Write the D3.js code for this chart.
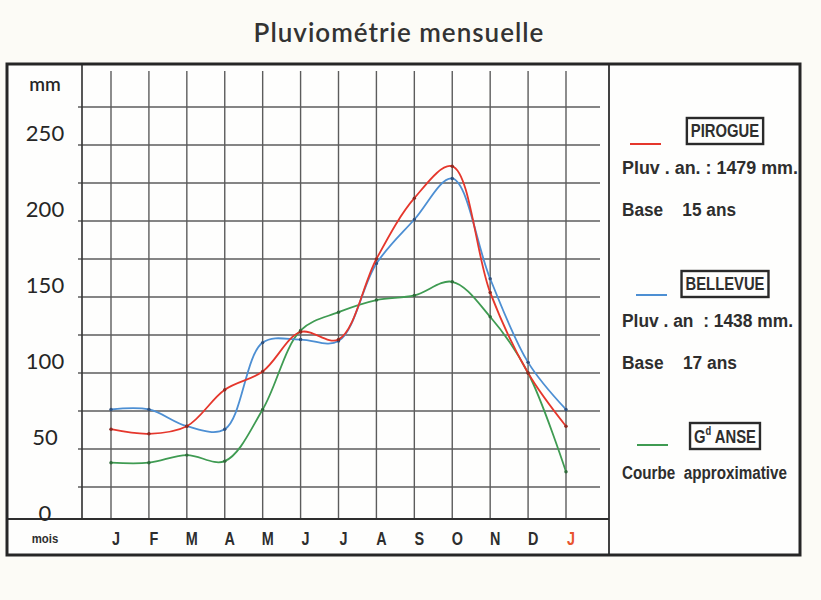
<!DOCTYPE html>
<html>
<head>
<meta charset="utf-8">
<script src="https://cdn.jsdelivr.net/npm/d3@7"></script>
<style>
  body { margin: 0; background: #fcfbf6; }
  svg { display: block; }
  .cond { font-family: "Liberation Sans", Arial, sans-serif; font-weight: bold; fill: #2e2e2e; white-space: pre; }
</style>
</head>
<body>
<div id="chart"></div>
<script>
// Data (mm per month), Jan -> following Jan
const months = ["J", "F", "M", "A", "M", "J", "J", "A", "S", "O", "N", "D", "J"];
const pirogue = [63, 60, 65, 89, 101, 127, 122, 175, 215, 236, 153, 100, 65];
const bellevue = [76, 76, 65, 63, 120, 122, 121, 172, 201, 228, 162, 107, 76];
const grandeAnse = [41, 41, 46, 42, 76, 128, 140, 148, 151, 160, 137, 100, 35];
const yTicks = [0, 50, 100, 150, 200, 250];
const gridValues = [25, 50, 75, 100, 125, 150, 175, 200, 225, 250, 275];

const W = 821, H = 600;
const svg = d3.select("#chart").append("svg")
    .attr("width", W).attr("height", H);

// Scales
const x = d3.scaleLinear().domain([0, 12]).range([111, 566]);
const y = d3.scaleLinear().domain([0, 25]).range([525, 487]);

// condensed bold text, squeezed horizontally
function condText(parent, tx, ty, size, sx, anchor) {
    return parent.append("text")
        .attr("class", "cond")
        .attr("transform", `translate(${tx},${ty}) scale(${sx},1)`)
        .attr("text-anchor", anchor || "start")
        .attr("dominant-baseline", "central")
        .style("font-size", size + "px");
}

// Title
svg.append("text")
    .attr("x", 399).attr("y", 42)
    .attr("text-anchor", "middle")
    .style("font-family", "Lato, 'Open Sans', sans-serif")
    .style("font-size", "26px")
    .style("font-weight", "600")
    .style("letter-spacing", "1px")
    .attr("fill", "#333")
    .text("Pluviométrie mensuelle");

// White sheet
svg.append("rect")
    .attr("x", 7).attr("y", 64).attr("width", 793).attr("height", 491)
    .attr("fill", "#fefefd");

// Grid
const grid = svg.append("g").attr("stroke", "#5c5c5c").attr("stroke-width", 1.4);
grid.selectAll("line.h")
    .data(gridValues)
    .join("line")
    .attr("class", "h")
    .attr("x1", 78).attr("x2", 600)
    .attr("y1", d => y(d)).attr("y2", d => y(d));
grid.selectAll("line.v")
    .data(months)
    .join("line")
    .attr("class", "v")
    .attr("x1", (d, i) => x(i)).attr("x2", (d, i) => x(i))
    .attr("y1", 71).attr("y2", 519);

// Frame lines
svg.append("line").attr("x1", 82).attr("x2", 82).attr("y1", 64).attr("y2", 519)
    .attr("stroke", "#3a3a3a").attr("stroke-width", 1.7);
svg.append("line").attr("x1", 7).attr("x2", 609).attr("y1", 519).attr("y2", 519)
    .attr("stroke", "#2e2e2e").attr("stroke-width", 1.8);
svg.append("line").attr("x1", 609).attr("x2", 609).attr("y1", 64).attr("y2", 555)
    .attr("stroke", "#2e2e2e").attr("stroke-width", 1.8);
svg.append("rect")
    .attr("x", 7).attr("y", 64).attr("width", 793).attr("height", 491)
    .attr("fill", "none").attr("stroke", "#262626").attr("stroke-width", 3);

// Y axis labels
const yl = svg.append("g")
    .style("font-family", "Lato, 'Open Sans', sans-serif")
    .style("font-size", "22px")
    .attr("fill", "#262626");
yl.selectAll("text")
    .data(yTicks)
    .join("text")
    .attr("x", 45).attr("y", d => y(d) - 13)
    .attr("text-anchor", "middle")
    .attr("dominant-baseline", "central")
    .text(d => d);
yl.append("text")
    .attr("x", 45).attr("y", 83)
    .attr("text-anchor", "middle")
    .attr("dominant-baseline", "central")
    .style("font-size", "19px")
    .style("font-weight", "600")
    .text("mm");

// X axis labels
condText(svg, 45, 538, 12, 0.95, "middle").text("mois");
svg.selectAll("text.month")
    .data(months)
    .join("text")
    .attr("class", "month cond")
    .attr("transform", (d, i) => `translate(${x(i) + 5},538) scale(0.8,1)`)
    .attr("text-anchor", "middle")
    .attr("dominant-baseline", "central")
    .style("font-size", "18px")
    .style("fill", (d, i) => i === 12 ? "#e8552e" : "#2e2e2e")
    .text(d => d);

// Curves
const series = [
    { name: "pirogue", values: pirogue, color: "#e5372c", dot: "#8a2a22" },
    { name: "bellevue", values: bellevue, color: "#4d8fd3", dot: "#2f4f7a" },
    { name: "grandeAnse", values: grandeAnse, color: "#3f9b52", dot: "#2f6a3a" }
];
const line = d3.line()
    .x((d, i) => x(i))
    .y(d => y(d))
    .curve(d3.curveCatmullRom.alpha(0.5));

series.slice().reverse().forEach(s => {
    svg.append("path")
        .datum(s.values)
        .attr("d", line)
        .attr("fill", "none")
        .attr("stroke", s.color)
        .attr("stroke-width", 1.8)
        .attr("stroke-linejoin", "round");
    svg.append("g").selectAll("circle")
        .data(s.values)
        .join("circle")
        .attr("cx", (d, i) => x(i))
        .attr("cy", d => y(d))
        .attr("r", 1.7)
        .attr("fill", s.dot);
});

// Legend
const legendLabels = ["PIROGUE", "BELLEVUE", "ANSE"];
const legendNotes = [
    ["Pluv . an. : 1479 mm.", "Base    15 ans"],
    ["Pluv . an  : 1438 mm.", "Base    17 ans"],
    ["Courbe  approximative"]
];
const legendColors = ["#e5372c", "#4d8fd3", "#3f9b52"];
// layout of the legend panel
const boxYs = [131, 284, 436];
const dashXs = [630, 636, 637];
const dashYs = [144, 295, 445];
const noteWidths = [[176, 114], [171, 115], [165]];

const lg = svg.append("g");
legendLabels.forEach((label, k) => {
    lg.append("line")
        .attr("x1", dashXs[k]).attr("x2", dashXs[k] + 31)
        .attr("y1", dashYs[k]).attr("y2", dashYs[k])
        .attr("stroke", legendColors[k]).attr("stroke-width", 2);
    const t = condText(lg, 725, boxYs[k], 19, 0.78, "middle");
    if (k === 2) {
        t.append("tspan").text("G");
        t.append("tspan").attr("dy", -5).style("font-size", "12px").text("d");
        t.append("tspan").attr("dy", 5).text(" " + label);
    } else {
        t.text(label);
    }
    const bw = t.node().getBBox().width * 0.78;
    lg.append("rect")
        .attr("x", 725 - bw / 2 - 4).attr("y", boxYs[k] - 13)
        .attr("width", bw + 8).attr("height", 26)
        .attr("fill", "none").attr("stroke", "#2a2a2a").attr("stroke-width", 2.4);
    legendNotes[k].forEach((txt, j) => {
        lg.append("text")
            .attr("class", "cond")
            .attr("x", 622)
            .attr("y", boxYs[k] + 37 + j * 42)
            .attr("dominant-baseline", "central")
            .attr("textLength", noteWidths[k][j])
            .attr("lengthAdjust", "spacingAndGlyphs")
            .style("font-size", "18px")
            .text(txt);
    });
});
</script>
</body>
</html>
